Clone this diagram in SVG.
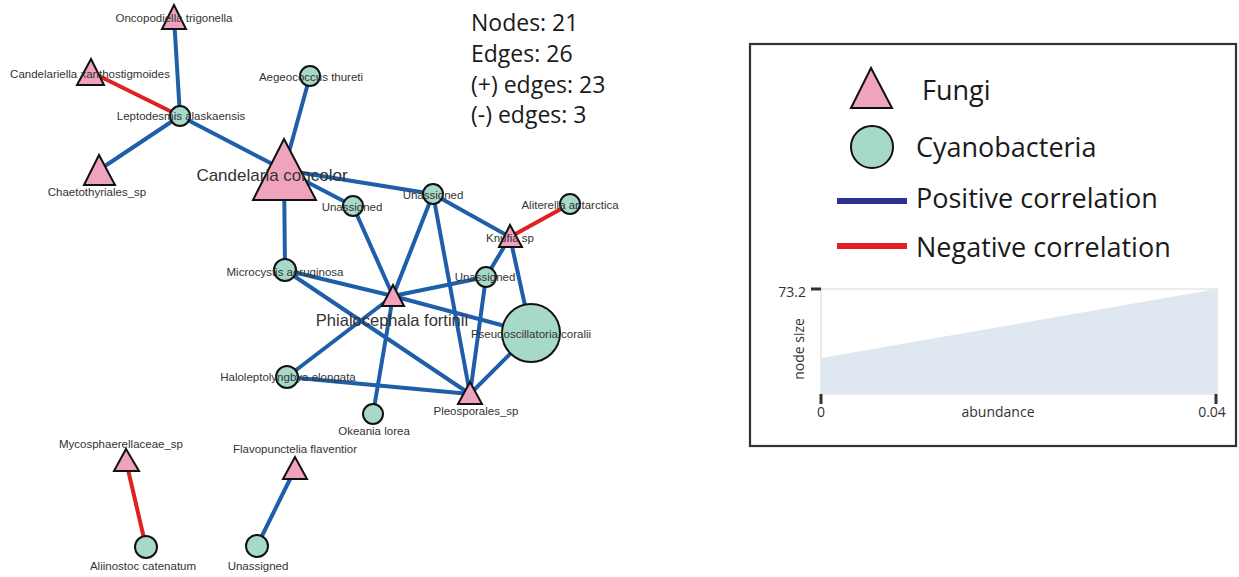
<svg xmlns="http://www.w3.org/2000/svg" width="1239" height="577" viewBox="0 0 1239 577">
<style>
.pos{stroke:#1f5ea8;stroke-width:4;stroke-linecap:round;fill:none}
.neg{stroke:#de2222;stroke-width:4;stroke-linecap:round;fill:none}
.fun{fill:#f0a3bc;stroke:#111;stroke-width:2;stroke-linejoin:miter}
.cya{fill:#a6d9c9;stroke:#111;stroke-width:2}
.lbl{font-family:"Liberation Sans",Arial,sans-serif;font-size:11.5px;fill:#333;text-anchor:middle}
.big{font-family:"Liberation Sans",Arial,sans-serif;font-size:16.5px;fill:#333;text-anchor:middle}
.stat{font-family:"Open Sans",sans-serif;font-size:23px;fill:#1a1a1a}
.leg{font-family:"Open Sans",sans-serif;font-size:27px;fill:#1a1a1a}
.ax{font-family:"Open Sans",sans-serif;font-size:14px;fill:#333}
</style>
<rect width="1239" height="577" fill="#fff"/>
<g id="edges">
<line class="pos" x1="174" y1="17" x2="180" y2="116"/>
<line class="neg" x1="91" y1="72" x2="180" y2="116"/>
<line class="pos" x1="180" y1="116" x2="99" y2="170"/>
<line class="pos" x1="180" y1="116" x2="284" y2="170"/>
<line class="pos" x1="310" y1="76" x2="284" y2="170"/>
<line class="pos" x1="284" y1="170" x2="353" y2="206"/>
<line class="pos" x1="284" y1="170" x2="433" y2="194"/>
<line class="pos" x1="284" y1="170" x2="285" y2="270"/>
<line class="pos" x1="353" y1="206" x2="393" y2="296"/>
<line class="pos" x1="433" y1="194" x2="393" y2="296"/>
<line class="pos" x1="433" y1="194" x2="470" y2="394"/>
<line class="pos" x1="433" y1="194" x2="510" y2="237"/>
<line class="neg" x1="510" y1="237" x2="570" y2="204"/>
<line class="pos" x1="510" y1="237" x2="486" y2="277"/>
<line class="pos" x1="510" y1="237" x2="531" y2="333"/>
<line class="pos" x1="486" y1="277" x2="393" y2="296"/>
<line class="pos" x1="486" y1="277" x2="470" y2="394"/>
<line class="pos" x1="285" y1="270" x2="393" y2="296"/>
<line class="pos" x1="285" y1="270" x2="470" y2="394"/>
<line class="pos" x1="393" y1="296" x2="531" y2="333"/>
<line class="pos" x1="393" y1="296" x2="287" y2="377"/>
<line class="pos" x1="393" y1="296" x2="373" y2="414"/>
<line class="pos" x1="287" y1="377" x2="470" y2="394"/>
<line class="pos" x1="470" y1="394" x2="531" y2="333"/>
<line class="neg" x1="126" y1="461" x2="146" y2="547"/>
<line class="pos" x1="295" y1="469" x2="257" y2="546"/>
</g>
<g id="n-oncopodiella"><polygon class="fun" points="174,5 162,29 186,29"/><text class="lbl" x="174" y="22">Oncopodiella trigonella</text></g>
<g id="n-candelariella"><polygon class="fun" points="91,59 77,85 104,85"/><text class="lbl" x="90" y="78">Candelariella xanthostigmoides</text></g>
<g id="n-leptodesmis"><circle class="cya" cx="180" cy="116" r="10"/><text class="lbl" x="181" y="120">Leptodesmis alaskaensis</text></g>
<g id="n-chaetothyriales"><polygon class="fun" points="99,155 84,185 115,185"/><text class="lbl" x="97" y="196">Chaetothyriales_sp</text></g>
<g id="n-aegeococcus"><circle class="cya" cx="310" cy="76" r="10"/><text class="lbl" x="311" y="81">Aegeococcus thureti</text></g>
<g id="n-candelaria"><polygon class="fun" points="284,139 253,200 316,200"/><text class="big" x="272" y="181" style="font-size:17px">Candelaria concolor</text></g>
<g id="n-unassigned1"><circle class="cya" cx="353" cy="206" r="10"/><text class="lbl" x="352" y="211">Unassigned</text></g>
<g id="n-unassigned2"><circle class="cya" cx="433" cy="194" r="10"/><text class="lbl" x="433" y="199">Unassigned</text></g>
<g id="n-aliterella"><circle class="cya" cx="570" cy="204" r="10"/><text class="lbl" x="570" y="209">Aliterella antarctica</text></g>
<g id="n-knufia"><polygon class="fun" points="510,225 499,247 522,247"/><text class="lbl" x="510" y="242">Knufia sp</text></g>
<g id="n-unassigned3"><circle class="cya" cx="486" cy="277" r="10"/><text class="lbl" x="485" y="281">Unassigned</text></g>
<g id="n-pseudoscillatoria"><circle class="cya" cx="531" cy="333" r="29"/><text class="lbl" x="531" y="338">Pseudoscillatoria coralii</text></g>
<g id="n-microcystis"><circle class="cya" cx="285" cy="270" r="11"/><text class="lbl" x="285" y="276">Microcystis aeruginosa</text></g>
<g id="n-phialocephala"><polygon class="fun" points="393,285 382,306 404,306"/><text class="big" x="392" y="326">Phialocephala fortinii</text></g>
<g id="n-haloleptolyngbya"><circle class="cya" cx="287" cy="377" r="11"/><text class="lbl" x="288" y="381">Haloleptolyngbya elongata</text></g>
<g id="n-okeania"><circle class="cya" cx="373" cy="414" r="10"/><text class="lbl" x="374" y="435">Okeania lorea</text></g>
<g id="n-pleosporales"><polygon class="fun" points="470,382 458,404 482,404"/><text class="lbl" x="476" y="415">Pleosporales_sp</text></g>
<g id="n-mycosphaerellaceae"><polygon class="fun" points="126,449 114,471 139,471"/><text class="lbl" x="121" y="448">Mycosphaerellaceae_sp</text></g>
<g id="n-aliinostoc"><circle class="cya" cx="146" cy="547" r="11"/><text class="lbl" x="143" y="570">Aliinostoc catenatum</text></g>
<g id="n-flavopunctelia"><polygon class="fun" points="295,457 283,479 307,479"/><text class="lbl" x="295" y="453">Flavopunctelia flaventior</text></g>
<g id="n-unassigned4"><circle class="cya" cx="257" cy="546" r="11"/><text class="lbl" x="258" y="570">Unassigned</text></g>
<g id="stats">
<text class="stat" x="471" y="31">Nodes: 21</text>
<text class="stat" x="471" y="62">Edges: 26</text>
<text class="stat" x="471" y="93">(+) edges: 23</text>
<text class="stat" x="471" y="123">(-) edges: 3</text>
</g>
<g id="legend">
<rect x="750" y="44" width="486" height="402" fill="none" stroke="#333" stroke-width="2.2"/>
<polygon class="fun" points="871,68 851,108 892,108"/>
<text class="leg" x="922" y="100">Fungi</text>
<circle class="cya" cx="872" cy="147" r="21"/>
<text class="leg" x="916" y="157">Cyanobacteria</text>
<line x1="837" y1="201" x2="907" y2="201" stroke="#2e3192" stroke-width="6"/>
<text class="leg" x="916" y="208">Positive correlation</text>
<line x1="837" y1="246" x2="907" y2="246" stroke="#e31e24" stroke-width="6"/>
<text class="leg" x="916" y="257">Negative correlation</text>
<rect x="821" y="289" width="396" height="105" fill="none" stroke="#d8d8d8" stroke-width="1"/>
<polygon points="821,394 821,358 1217,289 1217,394" fill="#dfe8f1"/>
<line x1="811" y1="289" x2="821" y2="289" stroke="#333" stroke-width="3"/>
<line x1="821" y1="394" x2="821" y2="404" stroke="#333" stroke-width="3"/>
<line x1="1216" y1="394" x2="1216" y2="404" stroke="#333" stroke-width="3"/>
<text class="ax" x="806" y="297" text-anchor="end">73.2</text>
<text class="ax" x="821" y="417" text-anchor="middle">0</text>
<text class="ax" x="1212" y="417" text-anchor="middle">0.04</text>
<text class="ax" x="998" y="417" text-anchor="middle">abundance</text>
<text class="ax" x="804" y="349" text-anchor="middle" transform="rotate(-90 804 349)">node size</text>
</g>
</svg>
